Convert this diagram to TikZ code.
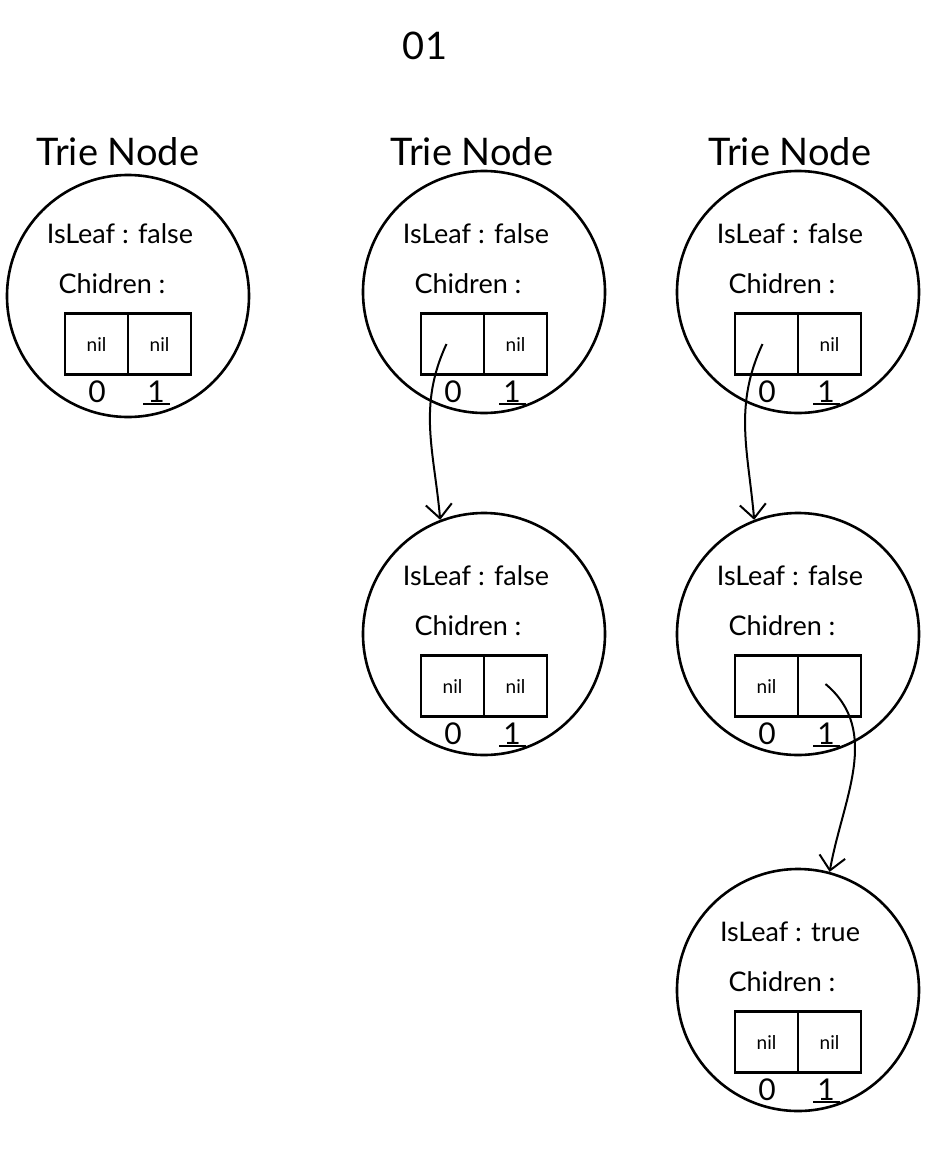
\documentclass[tikz,border=0pt]{standalone}
\usepackage{fontspec}
\setmainfont{Lato}
\usetikzlibrary{arrows.meta,calc}
\tikzset{
  tnode/.style={circle,draw,line width=2.6pt,minimum size=242pt,inner sep=0pt},
  cell/.style={rectangle,draw,line width=2.6pt,minimum width=63pt,minimum height=61pt,inner sep=0pt,font=\fontsize{19}{22}\selectfont},
  lbl/.style={inner sep=0pt,font=\fontsize{27}{30}\selectfont},
  idx/.style={inner sep=0pt,font=\fontsize{30}{32}\selectfont},
  title/.style={inner sep=0pt,font=\fontsize{38}{42}\selectfont},
  link/.style={line width=2pt,-{Straight Barb[length=14pt,width=26pt,line width=2pt]}}
}
% #1 name, #2 centre, #3 leaf value, #4 left cell, #5 right cell, #6 vertical shift of contents
\newcommand{\trieN}[6]{%
  \node[tnode] (#1) at (#2) {};
  \coordinate (#1-o) at ($(#1)+(0,#6)$);
  \node[lbl] (#1-leaf) at ($(#1-o)+(-8,-58)$) {IsLeaf : #3};
  \node[lbl] (#1-ch) at ($(#1-o)+(-16,-8)$) {Chidren :};
  \node[cell] (#1-l) at ($(#1-o)+(-31.5,52)$) {#4};
  \node[cell] (#1-r) at ($(#1-o)+(31.5,52)$) {#5};
  \node[idx] (#1-0) at ($(#1-o)+(-31,100)$) {0};
  \node[idx] (#1-1) at ($(#1-o)+(28,100)$) {1};
  \draw[line width=2pt] ($(#1-1.south west)+(-4,1)$) -- ($(#1-1.south east)+(5,1)$);
}
\begin{document}
\begin{tikzpicture}[x=1pt,y=-1pt]
\useasboundingbox (0,0) rectangle (936,1152);
\node[title] (top) at (425,46) {01};
\node[title] (t1) at (118,152) {Trie Node};
\node[title] (t2) at (472,152) {Trie Node};
\node[title] (t3) at (790,152) {Trie Node};
\trieN{c1}{128,296}{false}{nil}{nil}{-4}
\trieN{c2}{484,292}{false}{}{nil}{0}
\trieN{c3}{798,292}{false}{}{nil}{0}
\trieN{c4}{484,634}{false}{nil}{nil}{0}
\trieN{c5}{798,634}{false}{nil}{}{0}
\trieN{c6}{798,990}{true}{nil}{nil}{0}
\draw[link] ($(c2-l.center)+(-6,0)$) to[out=245,in=95] (c4.111);
\draw[link] ($(c3-l.center)+(-4,0)$) to[out=245,in=95] (c5.111);
\draw[link] ($(c5-r.center)+(-4,-2)$) to[out=-40,in=80] (c6.75);
\end{tikzpicture}
\end{document}
